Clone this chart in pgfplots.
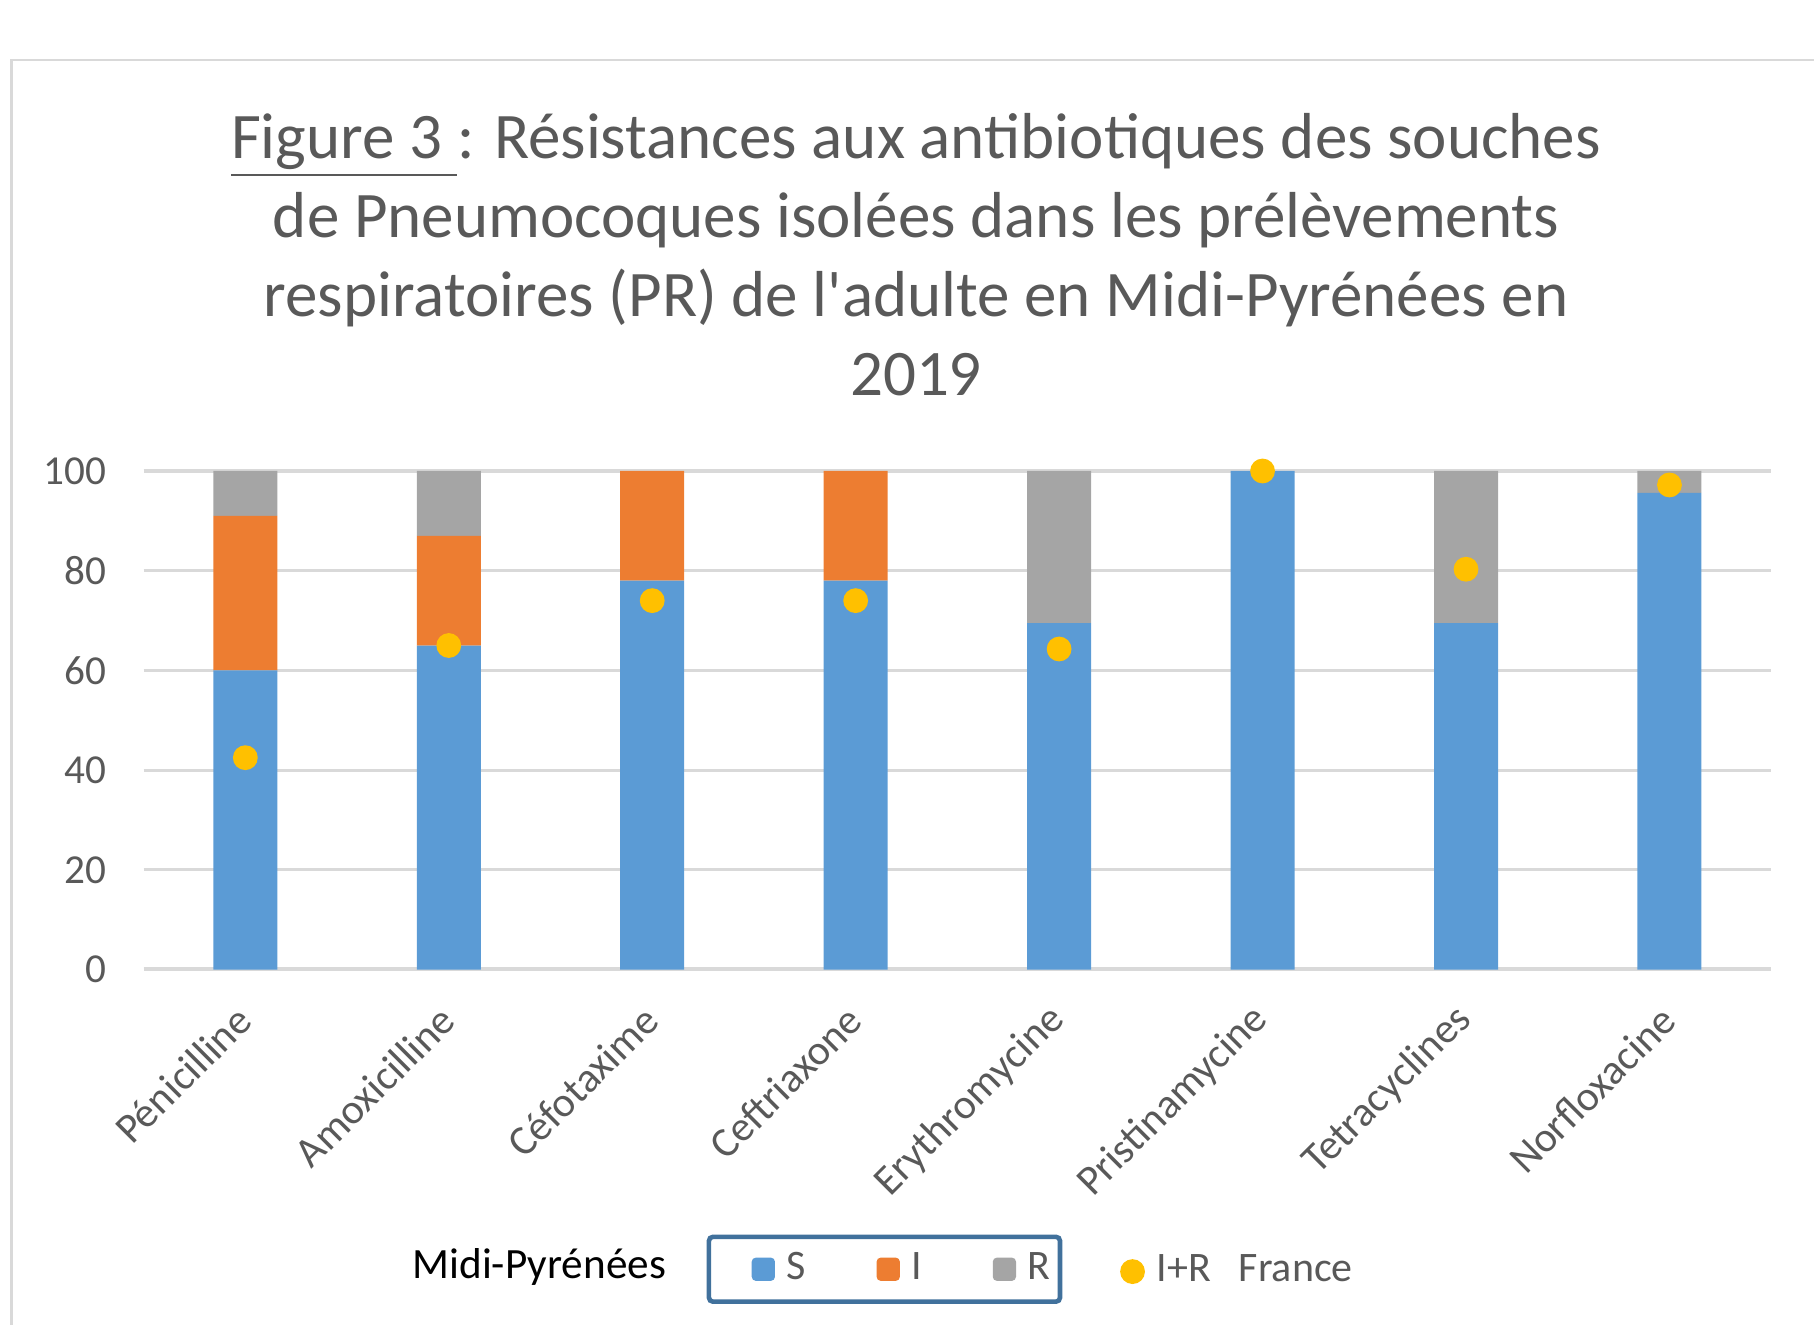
\documentclass[border=0pt]{standalone}
\usepackage{fontspec}
\setmainfont{Carlito}
\usepackage{pgfplots}
\pgfplotsset{compat=1.18}
\definecolor{cS}{HTML}{5B9BD5}
\definecolor{cI}{HTML}{ED7D31}
\definecolor{cR}{HTML}{A5A5A5}
\definecolor{cD}{HTML}{FFC000}
\definecolor{txt}{HTML}{595959}
\definecolor{grd}{HTML}{D9D9D9}
\definecolor{frm}{HTML}{41719C}
\begin{document}
\begin{tikzpicture}
\useasboundingbox (0,0) rectangle (453.5pt,-331.25pt);
\draw[grd, line width=0.7pt] (2.9pt,-340pt) -- (2.9pt,-15pt) -- (460pt,-15pt);
\begin{scope}[every node/.style={anchor=base, text=txt, font=\fontsize{16.25}{19.7}\selectfont, inner sep=0pt}]
\node at (229pt,-39.6pt) {\underline{Figure 3 }: Résistances aux antibiotiques des souches};
\node at (229pt,-59.35pt) {de Pneumocoques isolées dans les prélèvements};
\node at (229pt,-79.1pt) {respiratoires (PR) de l\textquotesingle adulte en Midi-Pyrénées en};
\node at (229pt,-98.9pt) {2019};
\end{scope}
\node[anchor=base, inner sep=0pt, font=\fontsize{10.8}{13}\selectfont] at (134.8pt,-319.6pt) {Midi-Pyrénées};
\begin{axis}[
  at={(35.9pt,-242.4pt)}, anchor=south west,
  scale only axis, width=406.9pt, height=124.65pt,
  ybar stacked, bar width=16pt,
  xmin=-0.5, xmax=7.5, ymin=0, ymax=100,
  xtick={0,...,7},
  xticklabels={Pénicilline,Amoxicilline,Céfotaxime,Ceftriaxone,Erythromycine,Pristinamycine,Tetracyclines,Norfloxacine},
  ytick={0,20,...,100},
  ymajorgrids, major grid style={grd, line width=0.8pt},
  axis line style={draw=none},
  major tick length=0pt,
  /pgf/number format/assume math mode=true,
  yticklabel style={font=\fontsize{10.3}{12}\selectfont, text=txt, xshift=-5.8pt},
  xticklabel style={font=\fontsize{10.5}{13}\selectfont, text=txt, xshift=2.2pt, yshift=-8.5pt, rotate=45, anchor=east},
  legend columns=3,
  legend image code/.code={\path (0pt,0pt); \fill[#1] (8.3pt,-2.9pt) rectangle (14.1pt,2.9pt);},
  legend style={at={(0.4552,-0.601)}, anchor=center, draw=frm, line width=1.15pt,
    rounded corners=1pt, inner xsep=2.4pt, inner ysep=3.6pt,
    font=\fontsize{10.5}{12}\selectfont, text=txt,
    nodes={inner sep=0pt, text height=7pt, text depth=2pt},
    /tikz/every odd column/.append style={column sep=2.9pt},
    /tikz/every even column/.append style={column sep=9.4pt}},
]
\addplot[fill=cS, draw=none] coordinates {(0,60) (1,65) (2,78) (3,78) (4,69.5) (5,100) (6,69.5) (7,95.6)};
\addplot[fill=cI, draw=none] coordinates {(0,31) (1,22) (2,22) (3,22) (4,0) (5,0) (6,0) (7,0)};
\addplot[fill=cR, draw=none] coordinates {(0,9) (1,13) (2,0) (3,0) (4,30.5) (5,0) (6,30.5) (7,4.4)};
\legend{S,I,R}
\draw[grd, line width=1.5pt] (axis cs:-0.5,0) -- (axis cs:7.5,0);
\end{axis}
\begin{axis}[
  at={(35.9pt,-242.4pt)}, anchor=south west,
  scale only axis, width=406.9pt, height=124.65pt,
  xmin=-0.5, xmax=7.5, ymin=0, ymax=100,
  hide axis, clip=false,
  legend image code/.code={\fill[cD] (0pt,0pt) circle (2.9pt);},
  legend style={at={(0.5995,-0.6057)}, anchor=west, draw=none, fill=none,
    inner sep=0pt, font=\fontsize{10.5}{12}\selectfont, text=txt,
    nodes={inner sep=0pt, text height=7pt, text depth=2pt},
    /tikz/every odd column/.append style={column sep=2.9pt}},
]
\addplot[only marks, mark=*, mark size=2.9pt, color=cD] coordinates {(0,42.5) (1,65) (2,74) (3,74) (4,64.3) (5,100) (6,80.3) (7,97.2)};
\legend{I+R\hspace{7pt}France}
\end{axis}
\end{tikzpicture}
\end{document}
